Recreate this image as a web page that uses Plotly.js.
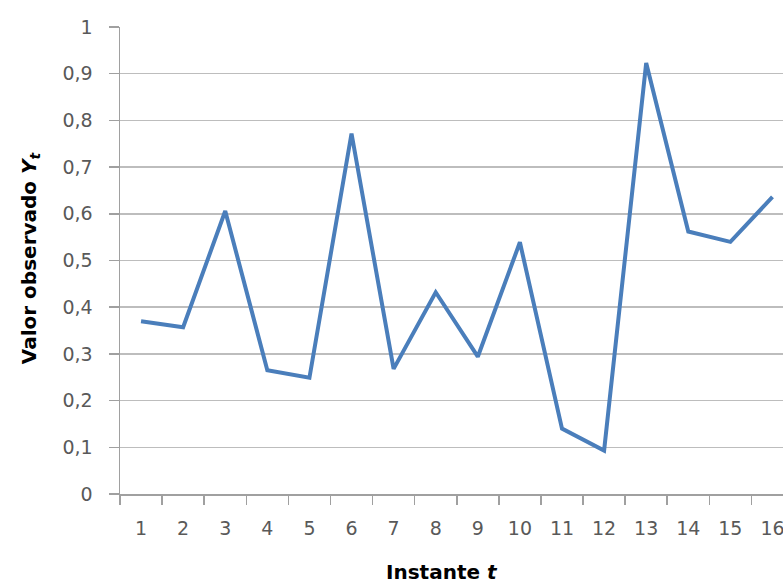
<!DOCTYPE html>
<html>
<head>
<meta charset="utf-8">
<script src="https://cdn.plot.ly/plotly-3.0.1.min.js"></script>
<style>html,body{margin:0;padding:0;background:#fff;}#chart{width:783px;height:584px;}</style>
</head>
<body>
<div id="chart"></div>
<script>
const instants = ["1","2","3","4","5","6","7","8","9","10","11","12","13","14","15","16"];
const observed = [0.370, 0.357, 0.606, 0.265, 0.249, 0.772, 0.268, 0.432, 0.294, 0.539, 0.140, 0.093, 0.923, 0.562, 0.540, 0.636];
const yTickVals = [0, 0.1, 0.2, 0.3, 0.4, 0.5, 0.6, 0.7, 0.8, 0.9, 1];
const yTickText = ["0", "0,1", "0,2", "0,3", "0,4", "0,5", "0,6", "0,7", "0,8", "0,9", "1"];
const xTitle = "Instante <i>t</i>";
const yTitle = "Valor observado <i>Y</i><sub><i>t</i></sub>";

const FONT = "DejaVu Sans, sans-serif";

const trace = {
  x: instants,
  y: observed,
  type: "scatter",
  mode: "lines",
  line: {color: "#4a7ebb", width: 4},
  hoverinfo: "skip"
};

const layout = {
  width: 783,
  height: 584,
  margin: {l: 120, r: 0, t: 27, b: 90, pad: 0},
  paper_bgcolor: "#ffffff",
  plot_bgcolor: "#ffffff",
  showlegend: false,
  xaxis: {
    type: "category",
    range: [-0.5, 15.25],
    tickson: "boundaries",
    ticks: "outside",
    ticklen: 9,
    tickcolor: "#a0a0a0",
    tickwidth: 1.5,
    showgrid: false,
    zeroline: false,
    showline: true,
    linecolor: "#a0a0a0",
    linewidth: 1.5,
    tickfont: {family: FONT, size: 19, color: "#595959"},
    ticklabelstandoff: 17,
    fixedrange: true
  },
  yaxis: {
    range: [0, 1],
    tickmode: "array",
    tickvals: yTickVals,
    ticktext: yTickText,
    ticks: "outside",
    ticklen: 10,
    tickcolor: "#a0a0a0",
    tickwidth: 1.5,
    showgrid: true,
    gridcolor: "#bdbdbd",
    gridwidth: 1.5,
    zeroline: false,
    showline: true,
    linecolor: "#a0a0a0",
    linewidth: 1.5,
    tickfont: {family: FONT, size: 19, color: "#595959"},
    ticklabelstandoff: 12,
    fixedrange: true
  },
  annotations: [
    {
      text: xTitle,
      xref: "paper", yref: "paper",
      x: 0.4857, y: -0.167,
      xanchor: "center", yanchor: "middle",
      showarrow: false,
      font: {family: FONT, size: 20, color: "#000000", weight: "bold"}
    },
    {
      text: yTitle,
      xref: "paper", yref: "paper",
      x: -0.1357, y: 0.505,
      xanchor: "center", yanchor: "middle",
      textangle: -90,
      showarrow: false,
      font: {family: FONT, size: 20, color: "#000000", weight: "bold"}
    }
  ]
};

Plotly.newPlot("chart", [trace], layout, {staticPlot: true, displayModeBar: false});
</script>
</body>
</html>
